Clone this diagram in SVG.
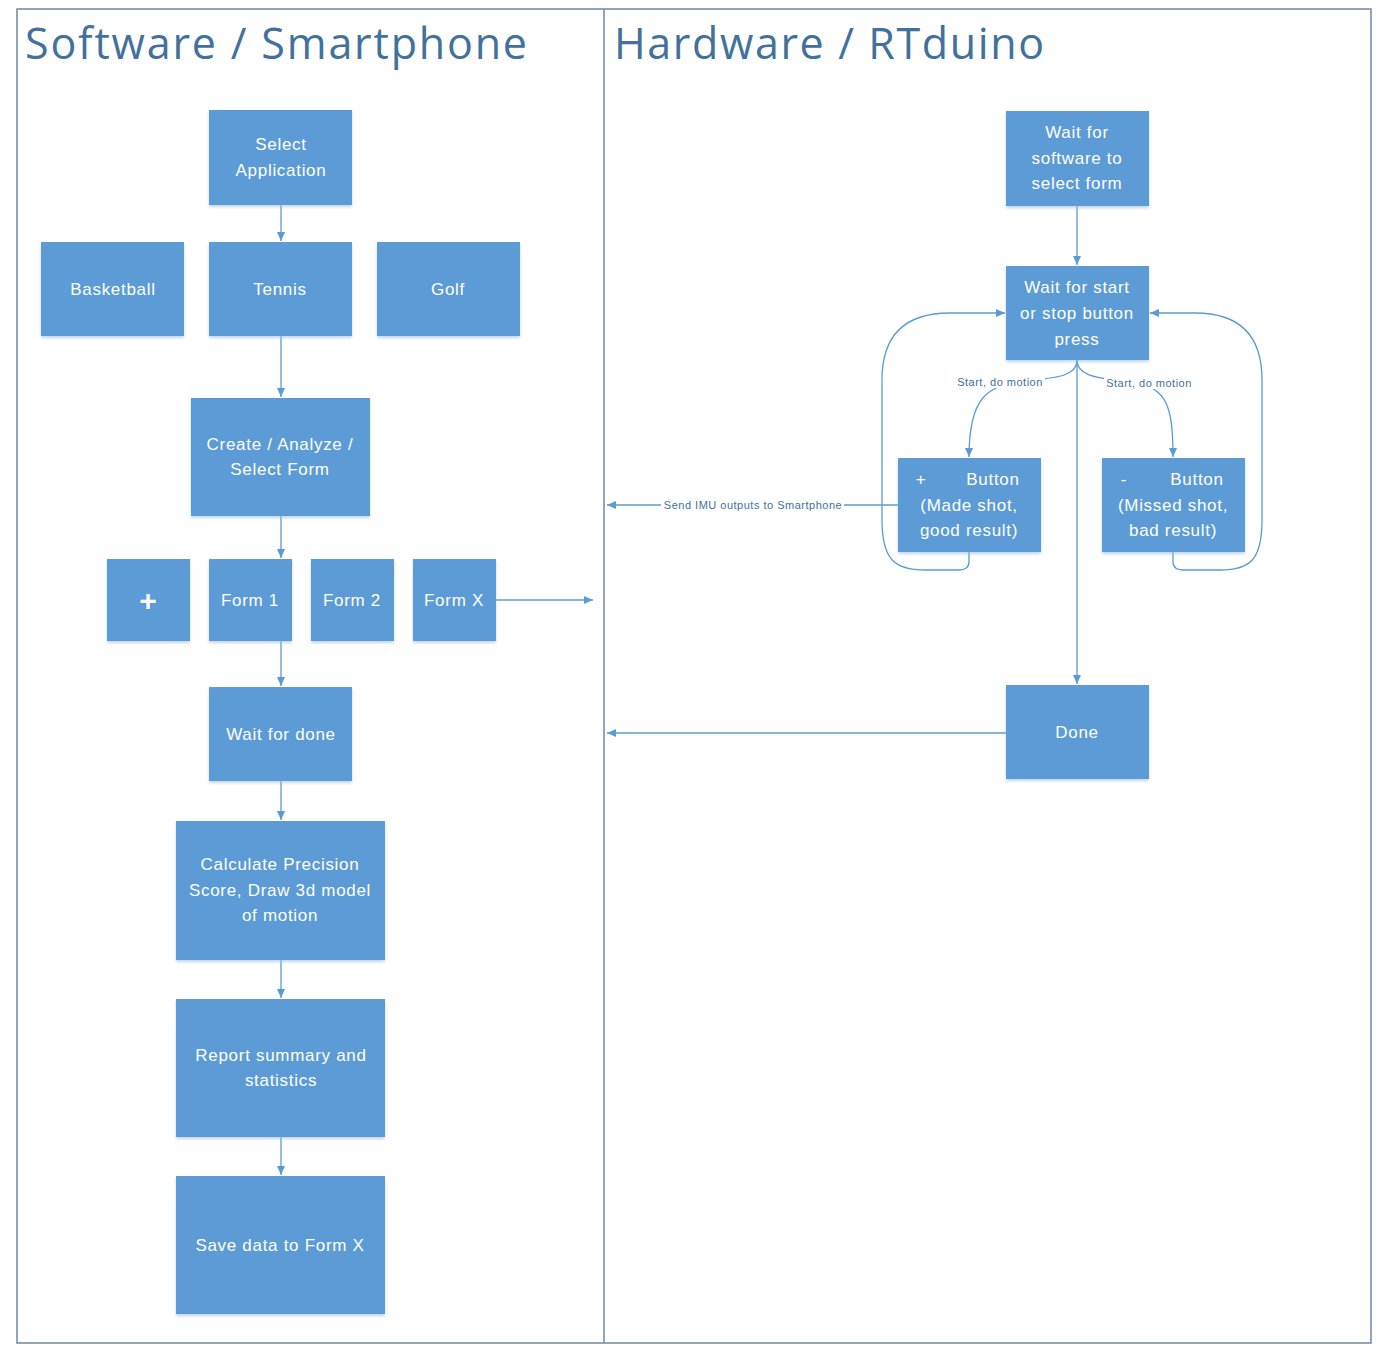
<svg xmlns="http://www.w3.org/2000/svg" width="1377" height="1352" viewBox="0 0 1377 1352">
<style>
.frame{fill:none;stroke:#7388A3;stroke-width:1.5}
.box{fill:#5B9BD5;filter:url(#sh)}
.t{font-family:"Liberation Sans",Arial,sans-serif;font-size:17px;fill:#FFFFFF;text-anchor:middle;letter-spacing:0.7px}
.h{font-family:"Open Sans","Liberation Sans",Arial,sans-serif;font-size:43px;fill:#41719C}
.c{fill:none;stroke:#5B9BD5;stroke-width:1.3}
.lbl{font-family:"Liberation Sans",Arial,sans-serif;font-size:11px;fill:#41719C;text-anchor:middle;letter-spacing:0.5px}
</style>
<defs>
<filter id="sh" x="-10%" y="-10%" width="130%" height="130%">
<feGaussianBlur in="SourceAlpha" stdDeviation="1.5"/>
<feOffset dx="0" dy="2" result="b"/>
<feFlood flood-color="#9DB9DC" flood-opacity="0.6"/>
<feComposite in2="b" operator="in"/>
<feMerge><feMergeNode/><feMergeNode in="SourceGraphic"/></feMerge>
</filter>
<marker id="a" markerWidth="10" markerHeight="10" refX="9" refY="5" orient="auto" markerUnits="userSpaceOnUse">
<path d="M0,1 L9,5 L0,9 Z" fill="#5B9BD5"/>
</marker>
</defs>
<rect width="1377" height="1352" fill="#FFFFFF"/>
<g id="frame">
<rect class="frame" x="17" y="9" width="1354" height="1334"/>
<line class="frame" x1="604" y1="9" x2="604" y2="1343"/>
<text class="h" x="25" y="59" textLength="502" lengthAdjust="spacing">Software / Smartphone</text>
<text class="h" x="614" y="59" textLength="430" lengthAdjust="spacing">Hardware / RTduino</text>
</g>
<g id="connectors">
<line class="c" x1="281" y1="205" x2="281" y2="241" marker-end="url(#a)"/>
<line class="c" x1="281" y1="336" x2="281" y2="397" marker-end="url(#a)"/>
<line class="c" x1="281" y1="516" x2="281" y2="558" marker-end="url(#a)"/>
<line class="c" x1="281" y1="641" x2="281" y2="686" marker-end="url(#a)"/>
<line class="c" x1="281" y1="781" x2="281" y2="820" marker-end="url(#a)"/>
<line class="c" x1="281" y1="960" x2="281" y2="998" marker-end="url(#a)"/>
<line class="c" x1="281" y1="1137" x2="281" y2="1175" marker-end="url(#a)"/>
<line class="c" x1="496" y1="600" x2="593" y2="600" marker-end="url(#a)"/>
<line class="c" x1="1077" y1="206" x2="1077" y2="265" marker-end="url(#a)"/>
<line class="c" x1="1077" y1="360" x2="1077" y2="684" marker-end="url(#a)"/>
<line class="c" x1="1006" y1="733" x2="607" y2="733" marker-end="url(#a)"/>
<line class="c" x1="898" y1="505" x2="607" y2="505" marker-end="url(#a)"/>
<path class="c" d="M1077,360 C1077,374 1062,378 1030,380 C985,383 969,400 969,457" marker-end="url(#a)"/>
<path class="c" d="M1077,360 C1077,374 1092,378 1124,381 C1165,385 1173,400 1173,457" marker-end="url(#a)"/>
<path class="c" d="M969,552 L969,562 Q969,570 958,570 L925,570 C895,570 882,560 882,520 L882,380 C882,335 905,313 950,313 L1005,313" marker-end="url(#a)"/>
<path class="c" d="M1173,552 L1173,562 Q1173,570 1184,570 L1220,570 C1250,570 1262,560 1262,520 L1262,380 C1262,335 1240,313 1195,313 L1150,313" marker-end="url(#a)"/>
<rect x="955" y="375" width="90" height="13" fill="#FFFFFF"/>
<text class="lbl" x="1000" y="386">Start, do motion</text>
<rect x="1104" y="376" width="90" height="13" fill="#FFFFFF"/>
<text class="lbl" x="1149" y="387">Start, do motion</text>
<rect x="661" y="498" width="183" height="13" fill="#FFFFFF"/>
<text class="lbl" x="753" y="509">Send IMU outputs to Smartphone</text>
</g>
<g id="n-select-app"><rect class="box" x="209" y="110" width="143" height="95"/><text class="t" x="281" y="150">Select</text><text class="t" x="281" y="176">Application</text></g>
<g id="n-basketball"><rect class="box" x="41" y="242" width="143" height="94"/><text class="t" x="113" y="295">Basketball</text></g>
<g id="n-tennis"><rect class="box" x="209" y="242" width="143" height="94"/><text class="t" x="280" y="295">Tennis</text></g>
<g id="n-golf"><rect class="box" x="377" y="242" width="143" height="94"/><text class="t" x="448" y="295">Golf</text></g>
<g id="n-create"><rect class="box" x="191" y="398" width="179" height="118"/><text class="t" x="280" y="450">Create / Analyze /</text><text class="t" x="280" y="475">Select Form</text></g>
<g id="n-plus"><rect class="box" x="107" y="559" width="83" height="82"/><text class="t" x="148" y="611" style="font-size:30px;font-weight:bold;letter-spacing:0">+</text></g>
<g id="n-form1"><rect class="box" x="209" y="559" width="83" height="82"/><text class="t" x="250" y="606">Form 1</text></g>
<g id="n-form2"><rect class="box" x="311" y="559" width="83" height="82"/><text class="t" x="352" y="606">Form 2</text></g>
<g id="n-formx"><rect class="box" x="413" y="559" width="83" height="82"/><text class="t" x="454" y="606">Form X</text></g>
<g id="n-wait-done"><rect class="box" x="209" y="687" width="143" height="94"/><text class="t" x="281" y="740">Wait for done</text></g>
<g id="n-calc"><rect class="box" x="176" y="821" width="209" height="139"/><text class="t" x="280" y="870">Calculate Precision</text><text class="t" x="280" y="896">Score, Draw 3d model</text><text class="t" x="280" y="921">of motion</text></g>
<g id="n-report"><rect class="box" x="176" y="999" width="209" height="138"/><text class="t" x="281" y="1061">Report summary and</text><text class="t" x="281" y="1086">statistics</text></g>
<g id="n-save"><rect class="box" x="176" y="1176" width="209" height="138"/><text class="t" x="280" y="1251">Save data to Form X</text></g>
<g id="n-wait-sw"><rect class="box" x="1006" y="111" width="143" height="95"/><text class="t" x="1077" y="138">Wait for</text><text class="t" x="1077" y="164">software to</text><text class="t" x="1077" y="189">select form</text></g>
<g id="n-wait-start"><rect class="box" x="1006" y="266" width="143" height="94"/><text class="t" x="1077" y="293">Wait for start</text><text class="t" x="1077" y="319">or stop button</text><text class="t" x="1077" y="345">press</text></g>
<g id="n-plus-btn"><rect class="box" x="898" y="458" width="143" height="94"/><text class="t" x="921" y="485">+</text><text class="t" x="993" y="485">Button</text><text class="t" x="969" y="511">(Made shot,</text><text class="t" x="969" y="536">good result)</text></g>
<g id="n-minus-btn"><rect class="box" x="1102" y="458" width="143" height="94"/><text class="t" x="1124" y="485">-</text><text class="t" x="1197" y="485">Button</text><text class="t" x="1173" y="511">(Missed shot,</text><text class="t" x="1173" y="536">bad result)</text></g>
<g id="n-done"><rect class="box" x="1006" y="685" width="143" height="94"/><text class="t" x="1077" y="738">Done</text></g>
</svg>
